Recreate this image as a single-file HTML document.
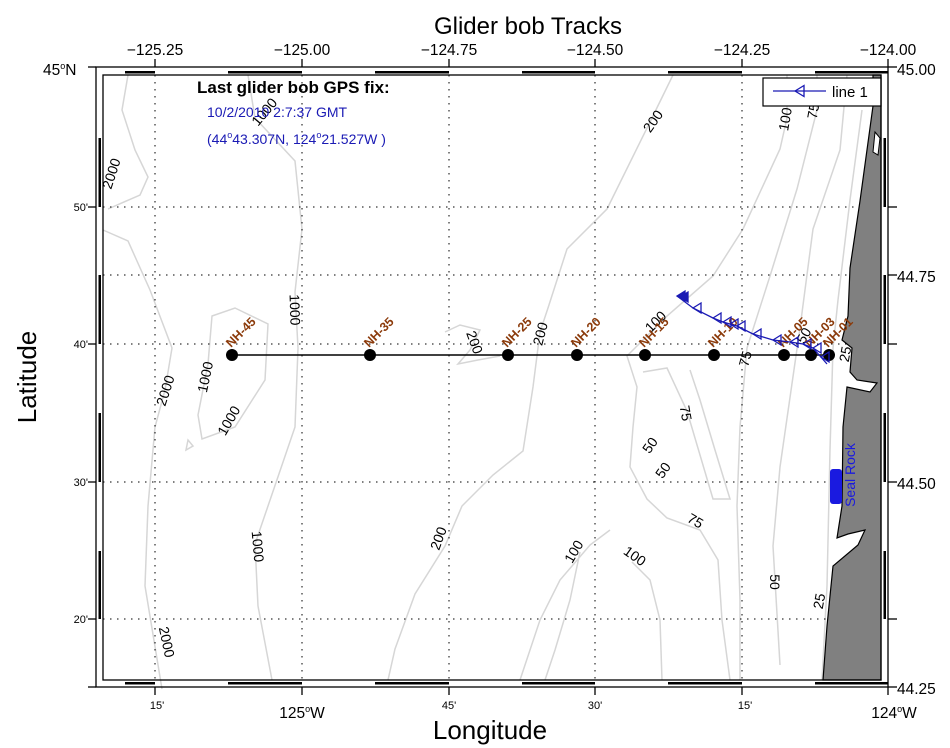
<!DOCTYPE html>
<html><head><meta charset="utf-8"><style>
html,body{margin:0;padding:0;background:#fff;}
svg{display:block;font-family:"Liberation Sans",Arial,sans-serif;}
</style></head><body>
<svg width="950" height="748" viewBox="0 0 950 748" xmlns="http://www.w3.org/2000/svg">
<rect width="950" height="748" fill="#fff"/>
<g fill="none" stroke="#d6d6d6" stroke-width="1.5">
<path d="M128,75 L122,110 L135,150 L148,177 L140,195 L108,209"/>
<path d="M103,230 L128,241 L150,290 L172,348 L165,390 L155,427 L148,506 L145,586 L162,689"/>
<path d="M248,75 L255,118 L295,161 L302,229 L295,292 L298,348 L295,427 L268,506 L255,544 L258,606 L272,680"/>
<path d="M212,316 L235,308 L268,324 L265,380 L235,427 L202,439 L198,415 L208,364 Z"/>
<path d="M188,440 L193,446 L186,450 Z"/>
<path d="M673,75 L650,122 L607,209 L567,249 L548,308 L540,332 L533,387 L523,451 L493,475 L462,506 L445,546 L415,594 L395,649 L388,680"/>
<path d="M445,332 L460,325 L480,330 L470,350 L458,364 L478,360 L500,356"/>
<path d="M787,75 L787,118 L780,149 L743,229 L713,276 L667,316 L627,356 L637,387 L633,427 L630,467 L647,499 L667,518 L700,530 L718,560 L722,620 L730,680"/>
<path d="M643,372 L667,368 L687,411 L713,499 L730,499 L715,450 L700,400 L690,370"/>
<path d="M817,75 L817,110 L797,189 L770,276 L747,348 L740,427 L737,506 L740,600 L740,680"/>
<path d="M847,75 L840,150 L813,229 L800,328 L780,467 L773,546 L780,665"/>
<path d="M862,110 L850,200 L838,300 L833,348 L830,450 L827,586 L822,680"/>
<path d="M520,680 L540,620 L560,580 L590,545 L610,530"/>
<path d="M632,562 L650,580 L660,620 L662,680"/>
<path d="M580,552 L570,600 L555,650 L545,680"/>
</g>
<g stroke="#000" stroke-width="1" stroke-dasharray="1.5,5.5">
<line x1="155" y1="75" x2="155" y2="680"/><line x1="302" y1="75" x2="302" y2="680"/>
<line x1="449" y1="75" x2="449" y2="680"/><line x1="595" y1="75" x2="595" y2="680"/>
<line x1="742" y1="75" x2="742" y2="680"/>
<line x1="103" y1="207" x2="881" y2="207"/><line x1="103" y1="275" x2="881" y2="275"/>
<line x1="103" y1="344" x2="881" y2="344"/><line x1="103" y1="482" x2="881" y2="482"/>
<line x1="103" y1="619" x2="881" y2="619"/>
</g>
<path d="M873,75 L873,106 L860,201 L850,268 L848,316 L842,340 L852,348 L850,372 L857,380 L877,383 L870,392 L847,387 L843,427 L842,506 L837,538 L848,534 L865,530 L858,545 L833,566 L827,626 L823,680 L881,680 L881,75 Z" fill="#808080" stroke="#000" stroke-width="1.2"/>
<path d="M875,132 L880,138 L878,155 L873,152 Z" fill="#fff" stroke="#000" stroke-width="1"/>
<g font-size="14" fill="#000" text-anchor="middle">
<text transform="translate(116,175) rotate(-72)">2000</text>
<text transform="translate(170,392) rotate(-72)">2000</text>
<text transform="translate(162,643) rotate(78)">2000</text>
<text transform="translate(268,115) rotate(-50)">1000</text>
<text transform="translate(290,310) rotate(88)">1000</text>
<text transform="translate(210,378) rotate(-78)">1000</text>
<text transform="translate(233,423) rotate(-60)">1000</text>
<text transform="translate(253,547) rotate(85)">1000</text>
<text transform="translate(470,344) rotate(70)">200</text>
<text transform="translate(545,335) rotate(-75)">200</text>
<text transform="translate(657,124) rotate(-55)">200</text>
<text transform="translate(443,540) rotate(-70)">200</text>
<text transform="translate(790,120) rotate(-80)">100</text>
<text transform="translate(818,112) rotate(-80)">75</text>
<text transform="translate(659,325) rotate(-45)">100</text>
<text transform="translate(750,360) rotate(-75)">75</text>
<text transform="translate(681,414) rotate(80)">75</text>
<text transform="translate(654,448) rotate(-55)">50</text>
<text transform="translate(667,473) rotate(-55)">50</text>
<text transform="translate(693,525) rotate(30)">75</text>
<text transform="translate(578,554) rotate(-60)">100</text>
<text transform="translate(632,560) rotate(35)">100</text>
<text transform="translate(770,582) rotate(90)">50</text>
<text transform="translate(824,602) rotate(-80)">25</text>
<text transform="translate(808,338) rotate(-60)">50</text>
<text transform="translate(850,355) rotate(-80)">25</text>
</g>
<line x1="232" y1="355" x2="829" y2="355" stroke="#000" stroke-width="1.5"/>
<g fill="#000">
<circle cx="232" cy="355" r="6"/><circle cx="370" cy="355" r="6"/><circle cx="508" cy="355" r="6"/>
<circle cx="577" cy="355" r="6"/><circle cx="645" cy="355" r="6"/><circle cx="714" cy="355" r="6"/>
<circle cx="784" cy="355" r="6"/><circle cx="811" cy="355" r="6"/><circle cx="829" cy="355" r="6"/>
</g>
<g font-size="12.5" font-weight="bold" fill="#8B3A0A">
<text transform="translate(231,348) rotate(-45)">NH-45</text>
<text transform="translate(369,348) rotate(-45)">NH-35</text>
<text transform="translate(507,348) rotate(-45)">NH-25</text>
<text transform="translate(576,348) rotate(-45)">NH-20</text>
<text transform="translate(644,348) rotate(-45)">NH-15</text>
<text transform="translate(713,348) rotate(-45)">NH-10</text>
<text transform="translate(783,348) rotate(-45)">NH-05</text>
<text transform="translate(810,348) rotate(-45)">NH-03</text>
<text transform="translate(828,348) rotate(-45)">NH-01</text>
</g>
<g stroke="#1a1ab4" stroke-width="1.3" fill="none">
<polyline points="677,296 693,308 713,318 723,322 730,324 737,326 753,334 773,340 790,342 803,344 813,348 827,364"/>
<path d="M677,296 l8,-5 v10 z" fill="#1a1ab4"/><path d="M680,297 l8,-5 v10 z" fill="#1a1ab4"/>
<path d="M693,308 l8,-5 v10 z"/><path d="M713,318 l8,-5 v10 z"/><path d="M723,322 l8,-5 v10 z"/>
<path d="M730,324 l8,-5 v10 z"/><path d="M737,326 l8,-5 v10 z"/><path d="M753,334 l8,-5 v10 z"/>
<path d="M773,340 l8,-5 v10 z"/><path d="M790,342 l8,-5 v10 z"/><path d="M803,344 l8,-5 v10 z"/>
<path d="M813,348 l8,-5 v10 z"/><path d="M821,357 l8,-5 v10 z"/>
</g>
<rect x="830" y="469" width="12" height="35" rx="3" fill="#1a1ae0"/>
<text transform="translate(855,475) rotate(-90)" font-size="14" fill="#1a1ae0" text-anchor="middle">Seal Rock</text>
<rect x="763" y="78" width="118" height="28" fill="#fff" stroke="#000" stroke-width="1.2"/>
<line x1="773" y1="91" x2="826" y2="91" stroke="#1a1ab4" stroke-width="1.3"/>
<path d="M795,91 l9,-5.5 v11 z" fill="none" stroke="#1a1ab4" stroke-width="1.3"/>
<text x="832" y="97" font-size="15" fill="#000">line 1</text>
<text x="197" y="93" font-size="17" font-weight="bold" fill="#000">Last glider bob GPS fix:</text>
<text x="207" y="117" font-size="14" fill="#1a1ab4">10/2/2010 2:7:37 GMT</text>
<text x="207" y="144" font-size="14" fill="#1a1ab4">(44<tspan font-size="9" dy="-6">o</tspan><tspan dy="6">43.307N, 124</tspan><tspan font-size="9" dy="-6">o</tspan><tspan dy="6">21.527W )</tspan></text>
<g fill="none" stroke="#000" stroke-width="1.3">
<rect x="96" y="67" width="792" height="620"/>
<rect x="103" y="75" width="778" height="605"/>
</g>
<g fill="#000">
<rect x="125" y="71" width="30" height="2.5"/><rect x="228" y="71" width="74" height="2.5"/>
<rect x="375" y="71" width="74" height="2.5"/><rect x="522" y="71" width="73" height="2.5"/>
<rect x="668" y="71" width="74" height="2.5"/><rect x="815" y="71" width="73" height="2.5"/>
<rect x="125" y="682" width="30" height="2.5"/><rect x="228" y="682" width="74" height="2.5"/>
<rect x="375" y="682" width="74" height="2.5"/><rect x="522" y="682" width="73" height="2.5"/>
<rect x="668" y="682" width="74" height="2.5"/><rect x="815" y="682" width="73" height="2.5"/>
<rect x="98.5" y="138" width="2.5" height="69"/><rect x="98.5" y="275" width="2.5" height="69"/>
<rect x="98.5" y="413" width="2.5" height="69"/><rect x="98.5" y="551" width="2.5" height="68"/>
<rect x="883.5" y="138" width="2.5" height="69"/><rect x="883.5" y="275" width="2.5" height="69"/>
<rect x="883.5" y="413" width="2.5" height="69"/><rect x="883.5" y="551" width="2.5" height="68"/>
</g>
<g stroke="#000" stroke-width="1.3">
<line x1="155" y1="59" x2="155" y2="67"/><line x1="302" y1="59" x2="302" y2="67"/>
<line x1="449" y1="59" x2="449" y2="67"/><line x1="595" y1="59" x2="595" y2="67"/>
<line x1="742" y1="59" x2="742" y2="67"/><line x1="888" y1="59" x2="888" y2="67"/>
<line x1="155" y1="687" x2="155" y2="695"/><line x1="302" y1="687" x2="302" y2="695"/>
<line x1="449" y1="687" x2="449" y2="695"/><line x1="595" y1="687" x2="595" y2="695"/>
<line x1="742" y1="687" x2="742" y2="695"/><line x1="888" y1="687" x2="888" y2="695"/>
<line x1="88" y1="67" x2="96" y2="67"/><line x1="88" y1="207" x2="96" y2="207"/>
<line x1="88" y1="344" x2="96" y2="344"/><line x1="88" y1="482" x2="96" y2="482"/>
<line x1="88" y1="619" x2="96" y2="619"/><line x1="88" y1="687" x2="96" y2="687"/>
<line x1="888" y1="67" x2="897" y2="67"/><line x1="888" y1="207" x2="897" y2="207"/>
<line x1="888" y1="275" x2="897" y2="275"/><line x1="888" y1="344" x2="897" y2="344"/>
<line x1="888" y1="482" x2="897" y2="482"/><line x1="888" y1="619" x2="897" y2="619"/>
<line x1="888" y1="687" x2="897" y2="687"/>
</g>
<g font-size="15.5" fill="#000" text-anchor="middle">
<text x="155" y="55">−125.25</text><text x="302" y="55">−125.00</text>
<text x="449" y="55">−124.75</text><text x="595" y="55">−124.50</text>
<text x="742" y="55">−124.25</text><text x="888" y="55">−124.00</text>
</g>
<g font-size="15.5" fill="#000">
<text x="897" y="75">45.00</text><text x="897" y="282">44.75</text>
<text x="897" y="489">44.50</text><text x="897" y="694">44.25</text>
<text x="43" y="75">45<tspan font-size="9" dy="-6">o</tspan><tspan dy="6">N</tspan></text>
</g>
<g font-size="11" fill="#000" text-anchor="end">
<text x="88" y="211">50'</text><text x="88" y="348">40'</text>
<text x="88" y="486">30'</text><text x="88" y="623">20'</text>
</g>
<g font-size="11" fill="#000" text-anchor="middle">
<text x="157" y="709">15'</text><text x="449" y="709">45'</text>
<text x="595" y="709">30'</text><text x="745" y="709">15'</text>
</g>
<g font-size="15.5" fill="#000" text-anchor="middle">
<text x="302" y="718">125<tspan font-size="9" dy="-6">o</tspan><tspan dy="6">W</tspan></text>
<text x="894" y="718">124<tspan font-size="9" dy="-6">o</tspan><tspan dy="6">W</tspan></text>
</g>
<text x="528" y="34" font-size="24" text-anchor="middle" fill="#000">Glider bob Tracks</text>
<text x="490" y="739" font-size="26" text-anchor="middle" fill="#000">Longitude</text>
<text transform="translate(36,377) rotate(-90)" font-size="26" text-anchor="middle" fill="#000">Latitude</text>
</svg>
</body></html>
